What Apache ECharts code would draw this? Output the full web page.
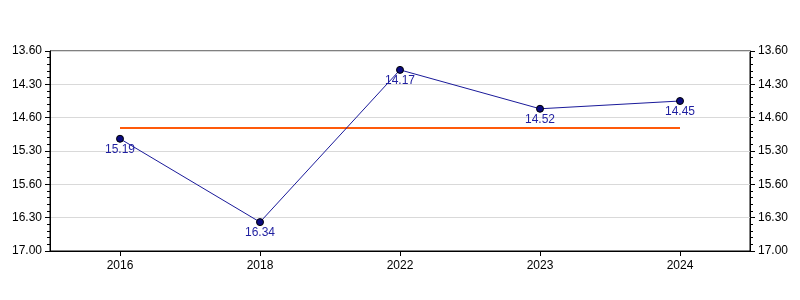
<!DOCTYPE html>
<html>
<head>
<meta charset="utf-8">
<script src="https://cdn.jsdelivr.net/npm/echarts@6/dist/echarts.min.js"></script>
<style>
html,body{margin:0;padding:0;background:#fff;}
#chart{width:800px;height:300px;}
</style>
</head>
<body>
<div id="chart"></div>
<script>
// Data
var categories = ["2016", "2018", "2022", "2023", "2024"];
// times as "minutes.seconds"
var times = ["15.19", "16.34", "14.17", "14.52", "14.45"];
// average reference line (decimal minutes)
var averageValue = 15.155;
// y-axis tick labels (as printed on the reference)
var tickLabels = ["13.60", "14.30", "14.60", "15.30", "15.60", "16.30", "17.00"];
var yMin = 14, yMax = 17, yInterval = 0.5;

function toDecimal(t) {
  var p = t.split(".");
  return parseInt(p[0], 10) + parseInt(p[1], 10) / 60;
}
var values = times.map(toDecimal);
var avgData = categories.map(function () { return averageValue; });

var FONT = "Liberation Sans, Arial, sans-serif";

function yLabel(v) {
  var i = Math.round((v - yMin) / yInterval);
  return tickLabels[i] !== undefined ? tickLabels[i] : "";
}

var yAxisCommon = {
  type: "value",
  inverse: true,
  min: yMin,
  max: yMax,
  interval: yInterval,
  axisLine: { show: true, lineStyle: { color: "#000", width: 1 } },
  axisTick: { show: true, length: 5, lineStyle: { color: "#000" } },
  minorTick: { show: true, splitNumber: 5, length: 3, lineStyle: { color: "#000" } },
  axisLabel: { color: "#000", fontSize: 12, fontFamily: FONT, formatter: yLabel, margin: 8 }
};

var chart = echarts.init(document.getElementById("chart"), null, { renderer: "canvas" });
chart.setOption({
  animation: false,
  backgroundColor: "#fff",
  grid: { left: 50, right: 50, top: 51, bottom: 49, show: true, borderColor: "#000", borderWidth: 1 },
  xAxis: {
    type: "category",
    data: categories,
    boundaryGap: true,
    axisLine: { show: true, lineStyle: { color: "#000" } },
    axisTick: { show: true, alignWithLabel: true, length: 5, lineStyle: { color: "#000" } },
    axisLabel: { color: "#000", fontSize: 12, fontFamily: FONT, margin: 9 },
    splitLine: { show: false }
  },
  yAxis: [
    Object.assign({}, yAxisCommon, {
      position: "left",
      splitLine: { show: true, lineStyle: { color: "#d9d9d9", width: 1 } }
    }),
    Object.assign({}, yAxisCommon, {
      position: "right",
      splitLine: { show: false }
    })
  ],
  series: [
    {
      type: "line",
      data: avgData,
      yAxisIndex: 0,
      symbol: "none",
      lineStyle: { color: "#ff5a0a", width: 2 },
      z: 1,
      silent: true
    },
    {
      type: "line",
      data: values,
      yAxisIndex: 0,
      symbol: "circle",
      symbolSize: 7,
      lineStyle: { color: "#1a1a9a", width: 1 },
      itemStyle: { color: "#0a0a80", borderColor: "#000", borderWidth: 1 },
      label: {
        show: true,
        position: "bottom",
        distance: 1,
        color: "#1f1fa0",
        fontSize: 12,
        fontFamily: FONT,
        formatter: function (p) { return times[p.dataIndex]; }
      },
      z: 3
    }
  ]
});
</script>
</body>
</html>
